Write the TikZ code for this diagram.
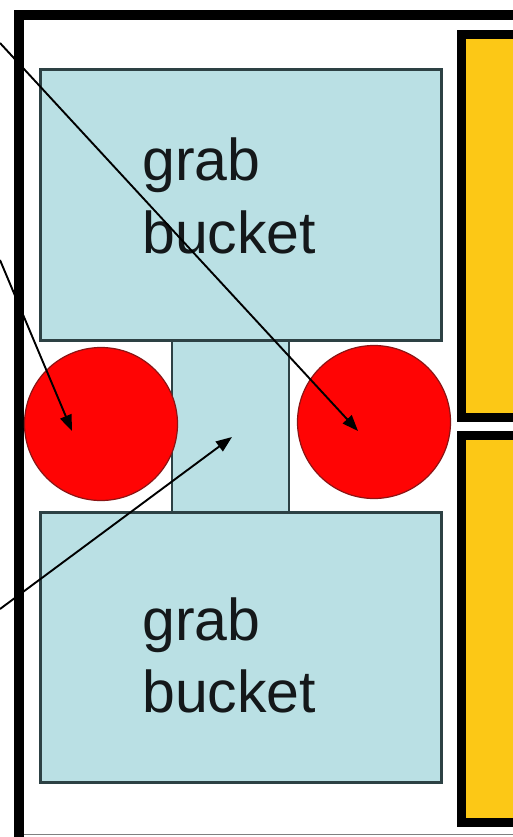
\documentclass[tikz,border=0pt]{standalone}
\usepackage{fontspec}
\setmainfont{Liberation Sans}
\usetikzlibrary{arrows.meta}
\definecolor{bluefill}{RGB}{186,224,228}
\definecolor{blueedge}{RGB}{45,65,68}
\definecolor{redfill}{RGB}{255,4,4}
\definecolor{rededge}{RGB}{140,20,20}
\definecolor{yellowfill}{RGB}{252,200,22}
\definecolor{textcol}{RGB}{20,24,26}
\begin{document}
\begin{tikzpicture}[x=1pt,y=-1pt,
  bucketbox/.style={fill=bluefill,draw=blueedge,line width=3pt},
  midbox/.style={fill=bluefill,draw=blueedge,line width=2pt},
  roller/.style={circle,fill=redfill,draw=rededge,line width=1.2pt,minimum size=153pt,inner sep=0pt},
  yellowbox/.style={fill=yellowfill,draw=black,line width=9pt},
  label/.style={inner sep=0pt,anchor=base west,text=textcol,font=\fontsize{59}{73}\selectfont},
  pointer/.style={draw=black,line width=1.9pt,-{Triangle[length=16pt,width=12pt]}}]
\useasboundingbox (0,0) rectangle (512,837);
\fill[white] (0,0) rectangle (512,837);
% outer frame
\draw[line width=10pt] (19,900) -- (19,15) -- (600,15);
\draw[gray,line width=1.5pt] (24,834.5) -- (600,834.5);
% yellow boxes
\draw[yellowbox] (461,35) rectangle (600,417);
\draw[yellowbox] (461,435) rectangle (600,822);
% buckets
\draw[midbox] (172,340) rectangle (289,512);
\draw[bucketbox] (40,70) rectangle (441,340);
\draw[bucketbox] (40,512) rectangle (441,782);
% rollers
\node[roller] (lc) at (101,424) {};
\node[roller] (rc) at (374,422) {};
% labels
\node[label] (t1) at (142,180) {grab};
\node[label] (t2) at (142,253) {bucket};
\node[label] (b1) at (142,640) {grab};
\node[label] (b2) at (142,712) {bucket};
% arrow ends
\coordinate (s1) at (0,43);
\coordinate (s2) at (0,260);
\coordinate (s3) at (0,609);
\coordinate (e1) at (358,431);
\coordinate (e2) at (72,431);
\coordinate (e3) at (232,437);
\draw[pointer] (s1) -- (e1);
\draw[pointer] (s2) -- (e2);
\draw[pointer] (s3) -- (e3);
\end{tikzpicture}
\end{document}
